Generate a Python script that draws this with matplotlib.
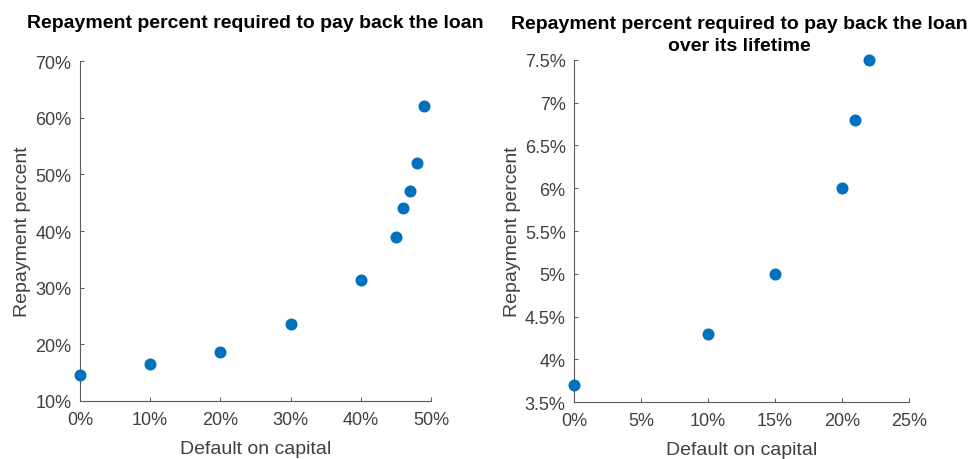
import matplotlib
matplotlib.use("Agg")
import matplotlib.pyplot as plt
from matplotlib.ticker import FuncFormatter

# Left panel: repayment percent required to pay back the loan
default_left = [0, 10, 20, 30, 40, 45, 46, 47, 48, 49]
repay_left = [14.6, 16.6, 18.7, 23.6, 31.4, 38.9, 44.0, 47.0, 52.0, 62.0]

# Right panel: repayment percent over the loan's lifetime
default_right = [0, 10, 15, 20, 21, 22]
repay_right = [3.7, 4.3, 5.0, 6.0, 6.8, 7.5]

left_xticks = [0, 10, 20, 30, 40, 50]
left_yticks = [10, 20, 30, 40, 50, 60, 70]
right_xticks = [0, 5, 10, 15, 20, 25]
right_yticks = [3.5, 4, 4.5, 5, 5.5, 6, 6.5, 7, 7.5]

BLUE = "#0072BD"
GREY = "#404040"

plt.rcParams["font.family"] = ["Liberation Sans", "DejaVu Sans"]


def pct(v, _pos):
    return f"{v:g}%"


def style_axes(ax, xticks, yticks):
    ax.set_xlim(xticks[0], xticks[-1])
    ax.set_ylim(yticks[0], yticks[-1])
    ax.set_xticks(xticks)
    ax.set_yticks(yticks)
    ax.xaxis.set_major_formatter(FuncFormatter(pct))
    ax.yaxis.set_major_formatter(FuncFormatter(pct))
    for side in ["top", "right"]:
        ax.spines[side].set_visible(False)
    for side in ["left", "bottom"]:
        ax.spines[side].set_color("#5a5a5a")
        ax.spines[side].set_linewidth(0.8)
    ax.tick_params(direction="in", length=3, width=0.7, color="#5a5a5a",
                   labelsize=13, labelcolor=GREY)
    ax.tick_params(axis="x", pad=7)
    ax.tick_params(axis="y", pad=6)
    ax.set_xlabel("Default on capital", fontsize=14, color=GREY, labelpad=9)
    ax.set_ylabel("Repayment percent", fontsize=14, color=GREY, labelpad=3)


fig = plt.figure(figsize=(9.68, 4.6), dpi=100)
ax1 = fig.add_axes([0.0826, 0.1261, 0.3626, 0.7391])
ax2 = fig.add_axes([0.593, 0.1239, 0.346, 0.7435])

ax1.scatter(default_left, repay_left, s=75, color=BLUE, zorder=3, clip_on=False, linewidths=0)
ax2.scatter(default_right, repay_right, s=75, color=BLUE, zorder=3, clip_on=False, linewidths=0)

style_axes(ax1, left_xticks, left_yticks)
style_axes(ax2, right_xticks, right_yticks)

# titles placed at fixed heights (baseline of the last line)
fig.text(0.2639, 1 - 28 / 460, "Repayment percent required to pay back the loan",
         ha="center", va="baseline", fontsize=14, fontweight="bold", color="black")
fig.text(0.764, 1 - 51 / 460,
         "Repayment percent required to pay back the loan\nover its lifetime",
         ha="center", va="baseline", fontsize=14, fontweight="bold", color="black",
         linespacing=1.35)

fig.savefig("out.png", dpi=100)
